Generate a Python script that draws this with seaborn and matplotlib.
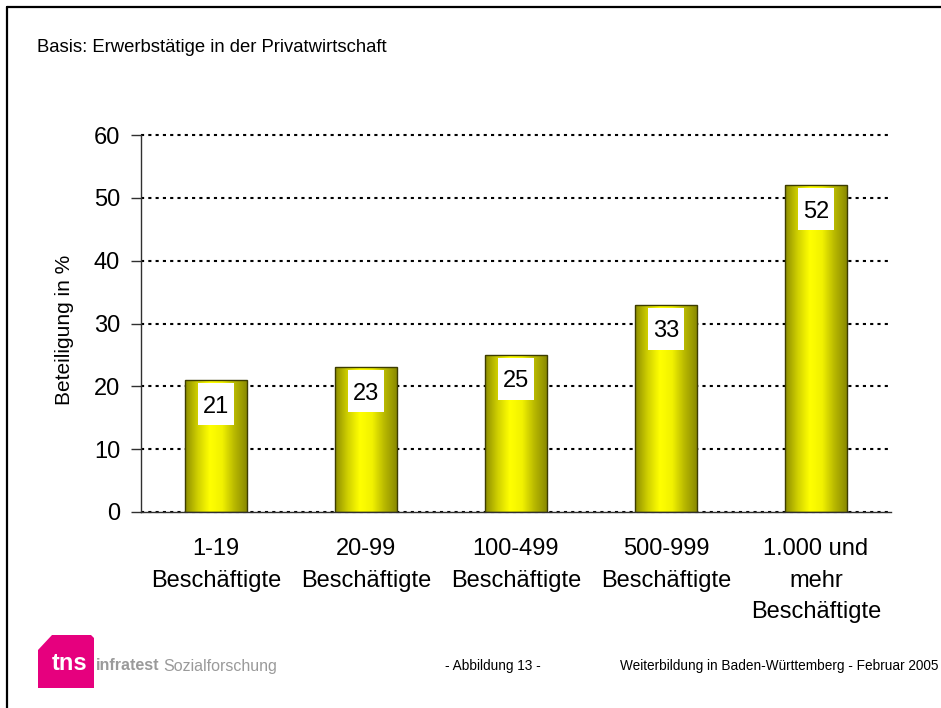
import numpy as np
import matplotlib
matplotlib.use("Agg")
import matplotlib.pyplot as plt
from matplotlib.colors import LinearSegmentedColormap
from matplotlib.patches import Polygon, Rectangle
from matplotlib.lines import Line2D
import seaborn as sns

categories = ["1-19\nBeschäftigte", "20-99\nBeschäftigte", "100-499\nBeschäftigte",
              "500-999\nBeschäftigte", "1.000 und\nmehr\nBeschäftigte"]
values = [21, 23, 25, 33, 52]
y_ticks = [0, 10, 20, 30, 40, 50, 60]

sns.set_style("white")
plt.rcParams["font.family"] = ["Liberation Sans", "DejaVu Sans"]
plt.rcParams.update({"text.color": "black", "axes.labelcolor": "black",
                     "xtick.color": "black", "ytick.color": "black"})

W, H = 941, 708
fig = plt.figure(figsize=(W / 100, H / 100), dpi=100)
ax = fig.add_axes([141 / W, 1 - 512 / H, 750 / W, 377 / H])


def px(x, y):
    # pixel position (from top left) -> figure fraction
    return x / W, 1 - y / H


sns.barplot(x=categories, y=values, color="#d8d800", saturation=1, width=0.41,
            edgecolor="#3c3c00", linewidth=1.0, ax=ax)

# cylinder-like shading: dark olive sides, bright yellow middle
bar_cmap = LinearSegmentedColormap.from_list(
    "bar", ["#8c8c00", "#cfcf00", "#ffff00", "#f2f200", "#b8b800", "#8a8a00"])
grad = np.linspace(0, 1, 256).reshape(1, -1)
for bar in ax.patches:
    x0, w, h = bar.get_x(), bar.get_width(), bar.get_height()
    im = ax.imshow(grad, cmap=bar_cmap, extent=(x0, x0 + w, 0, h),
                   aspect="auto", zorder=2.5, interpolation="bilinear")
    im.set_clip_path(bar)
    bar.set_facecolor("none")
    bar.set_zorder(3)

ax.set_xlim(-0.5, 4.5)
ax.set_ylim(0, 60)

# value labels in white boxes just below the bar tops
unit = 377 / 60  # pixels per percent
box_w, box_h, gap = 0.24, 42 / unit, 3 / unit
for i, v in enumerate(values):
    top = v - gap
    ax.add_patch(Rectangle((i - box_w / 2, top - box_h), box_w, box_h,
                           facecolor="white", edgecolor="none", zorder=4))
    ax.text(i, top - box_h / 2, f"{v}", ha="center", va="center_baseline",
            fontsize=17, zorder=5)

ax.set_yticks(y_ticks)
ax.yaxis.grid(True, linestyle=(0, (1.5, 2)), color="black", linewidth=1.5)
ax.set_axisbelow(True)
for gl in ax.get_ygridlines():
    gl.set_clip_on(False)

for s in ["top", "right"]:
    ax.spines[s].set_visible(False)
for s in ["left", "bottom"]:
    ax.spines[s].set_color("#303030")
    ax.spines[s].set_linewidth(1.0)
    ax.spines[s].set_zorder(3.5)

ax.set_xticks(np.arange(-0.5, 5, 1), minor=True)
ax.tick_params(axis="x", which="major", length=0, pad=19, labelsize=17)
ax.tick_params(axis="x", which="minor", length=6, width=1, color="#303030", direction="out")
ax.tick_params(axis="y", length=7, width=1, color="#303030", pad=8, labelsize=17, left=True)
for lab in ax.get_xticklabels():
    lab.set_linespacing(1.55)
ax.set_xlabel("")
ax.set_ylabel("Beteiligung in %", fontsize=15)
ax.yaxis.set_label_coords(-0.09, 0.483)

fig.text(*px(37, 52), "Basis: Erwerbstätige in der Privatwirtschaft", fontsize=13.3, va="baseline")

# page frame (left and top edges)
fig.add_artist(Line2D([7 / W, 7 / W], [0, 1 - 7 / H], color="black", lw=1.6))
fig.add_artist(Line2D([7 / W, 1], [1 - 7 / H, 1 - 7 / H], color="black", lw=1.6))

# logo
logo = [px(38, 650), px(52, 635), px(91, 635), px(94, 638), px(94, 688), px(38, 688)]
fig.add_artist(Polygon(logo, closed=True, transform=fig.transFigure,
                       facecolor="#e6007e", edgecolor="none"))
fig.text(*px(52, 664), "tns", color="white", fontsize=17, fontweight="bold", va="center")
fig.text(*px(96, 666), "infratest", color="#9a9a9a", fontsize=11.5, fontweight="bold",
         va="center")
fig.text(*px(163, 666), "Sozialforschung", color="#9a9a9a", fontsize=11.5, va="center")

fig.text(*px(445, 666), "- Abbildung 13 -", fontsize=9.8, va="center")
fig.text(*px(620, 666), "Weiterbildung in Baden-Württemberg - Februar 2005", fontsize=9.8,
         va="center")

fig.savefig("out.png", dpi=100)
